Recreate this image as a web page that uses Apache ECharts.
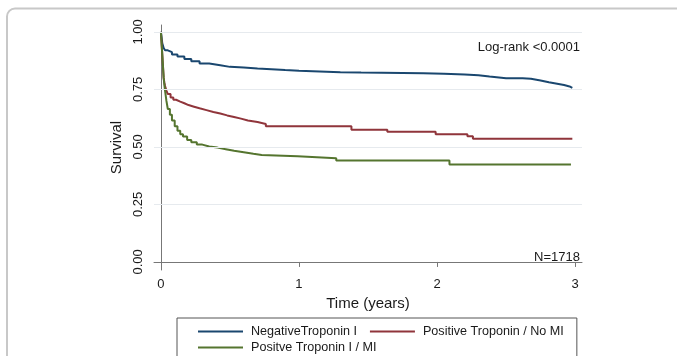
<!DOCTYPE html>
<html>
<head>
<meta charset="utf-8">
<script src="https://cdn.jsdelivr.net/npm/echarts@6/dist/echarts.min.js"></script>
<style>
html,body{margin:0;padding:0;background:#fff;}
#chart{width:677px;height:356px;}
</style>
</head>
<body>
<div id="chart"></div>
<script>
// ---- data ----
var seriesNames = ['NegativeTroponin I', 'Positive Troponin / No MI', 'Positve Troponin I / MI'];

var negTime = [0, 0.01, 0.02, 0.03, 0.05, 0.08, 0.12, 0.17, 0.22, 0.28, 0.35, 0.43, 0.5, 0.6, 0.7, 0.8, 0.9, 1.0, 1.1, 1.2, 1.3, 1.45, 1.6, 1.75, 1.9, 2.05, 2.2, 2.3, 2.38, 2.5, 2.62, 2.68, 2.75, 2.81, 2.87, 2.92, 2.96, 2.98];
var negSurv = [1.0, 0.95, 0.93, 0.92, 0.912, 0.902, 0.893, 0.882, 0.872, 0.863, 0.855, 0.848, 0.845, 0.841, 0.838, 0.834, 0.831, 0.829, 0.827, 0.825, 0.823, 0.822, 0.821, 0.82, 0.818, 0.815, 0.812, 0.806, 0.799, 0.798, 0.796, 0.789, 0.781, 0.775, 0.769, 0.763, 0.757, 0.754];

var posNoMiTime = [0, 0.005, 0.01, 0.015, 0.02, 0.025, 0.03, 0.04, 0.05, 0.07, 0.09, 0.11, 0.14, 0.17, 0.2, 0.24, 0.28, 0.33, 0.38, 0.43, 0.48, 0.53, 0.58, 0.63, 0.7, 0.76, 1.38, 1.64, 1.99, 2.22, 2.26, 2.98];
var posNoMiSurv = [1.0, 0.95, 0.9, 0.85, 0.8, 0.78, 0.765, 0.745, 0.73, 0.715, 0.705, 0.697, 0.69, 0.682, 0.675, 0.668, 0.66, 0.652, 0.645, 0.637, 0.63, 0.623, 0.615, 0.608, 0.6, 0.59, 0.575, 0.566, 0.555, 0.546, 0.536, 0.536];

var posMiTime = [0, 0.005, 0.01, 0.015, 0.02, 0.025, 0.03, 0.04, 0.05, 0.065, 0.08, 0.1, 0.12, 0.14, 0.16, 0.19, 0.22, 0.26, 0.3, 0.35, 0.41, 0.47, 0.53, 0.6, 0.67, 0.73, 0.99, 1.27, 2.09, 2.97];
var posMiSurv = [1.0, 0.95, 0.9, 0.85, 0.8, 0.77, 0.745, 0.7, 0.665, 0.64, 0.615, 0.59, 0.57, 0.555, 0.545, 0.53, 0.52, 0.51, 0.502, 0.497, 0.49, 0.483, 0.477, 0.47, 0.465, 0.459, 0.451, 0.441, 0.424, 0.424];

var yTicks = [0, 0.25, 0.5, 0.75, 1.0];
var yGridLines = [0.25, 0.5, 0.75, 1.0];
var xTicks = [0, 1, 2, 3];
var colors = ['#1a476f', '#90353b', '#55752f'];

function pairs(t, s) { return t.map(function (v, i) { return [v, s[i]]; }); }

var FONT = '"Liberation Sans", Arial, sans-serif';
var chart = echarts.init(document.getElementById('chart'));

chart.setOption({
  animation: false,
  backgroundColor: '#fff',
  textStyle: { fontFamily: FONT },
  grid: { left: 154, right: 95, top: 25, bottom: 86, containLabel: false },
  xAxis: {
    type: 'value', min: -0.05, max: 3.05,
    name: 'Time (years)', nameLocation: 'middle', nameGap: 20,
    nameTextStyle: { fontSize: 15, color: '#1a1a1a', fontFamily: FONT },
    axisLine: { show: true, lineStyle: { color: '#777', width: 1 } },
    axisTick: { show: true, length: 5, customValues: xTicks, lineStyle: { color: '#777' } },
    axisLabel: { customValues: xTicks, fontSize: 13, color: '#1a1a1a', margin: 8, fontFamily: FONT },
    splitLine: { show: false }
  },
  yAxis: {
    type: 'value', min: -0.035, max: 1.03,
    name: 'Survival', nameLocation: 'middle', nameGap: 21,
    nameTextStyle: { fontSize: 15, color: '#1a1a1a', fontFamily: FONT },
    axisLine: { show: true, lineStyle: { color: '#777', width: 1 } },
    axisTick: { show: true, length: 5, customValues: yTicks, lineStyle: { color: '#777' } },
    axisLabel: { customValues: yTicks, rotate: 90, fontSize: 13, color: '#1a1a1a', margin: 9, fontFamily: FONT,
      formatter: function (v) { return v.toFixed(2); } },
    splitLine: { show: false }
  },
  legend: {
    left: 177, top: 318, width: 380,
    padding: [7, 3, 20, 21],
    icon: 'rect',
    itemWidth: 45, itemHeight: 2, itemGap: 3,
    borderColor: '#555', borderWidth: 1,
    textStyle: { fontSize: 12.6, lineHeight: 13, color: '#1a1a1a', padding: [0, 10, 0, 3], fontFamily: FONT },
    data: seriesNames
  },
  graphic: [
    { type: 'rect', silent: true, z: -10,
      shape: { x: 7, y: 8.5, width: 720, height: 420, r: 8 },
      style: { fill: 'none', stroke: '#c8c8c8', lineWidth: 2 } },
    { type: 'text', x: 580, y: 47,
      style: { text: 'Log-rank <0.0001', fontSize: 13, fill: '#1a1a1a', align: 'right', verticalAlign: 'middle', font: '13px ' + FONT } },
    { type: 'text', x: 580, y: 257,
      style: { text: 'N=1718', fontSize: 13, fill: '#1a1a1a', align: 'right', verticalAlign: 'middle', font: '13px ' + FONT } }
  ],
  series: [
    { name: seriesNames[0], type: 'line', step: 'end', symbol: 'none', data: pairs(negTime, negSurv),
      lineStyle: { color: colors[0], width: 2 }, itemStyle: { color: colors[0] }, z: 3,
      markLine: { silent: true, symbol: 'none', label: { show: false },
        lineStyle: { color: '#e6eaee', type: 'solid', width: 1 },
        data: yGridLines.map(function (v) { return { yAxis: v }; }) } },
    { name: seriesNames[1], type: 'line', step: 'end', symbol: 'none', data: pairs(posNoMiTime, posNoMiSurv),
      lineStyle: { color: colors[1], width: 2 }, itemStyle: { color: colors[1] }, z: 3 },
    { name: seriesNames[2], type: 'line', step: 'end', symbol: 'none', data: pairs(posMiTime, posMiSurv),
      lineStyle: { color: colors[2], width: 2 }, itemStyle: { color: colors[2] }, z: 3 }
  ]
});
</script>
</body>
</html>
